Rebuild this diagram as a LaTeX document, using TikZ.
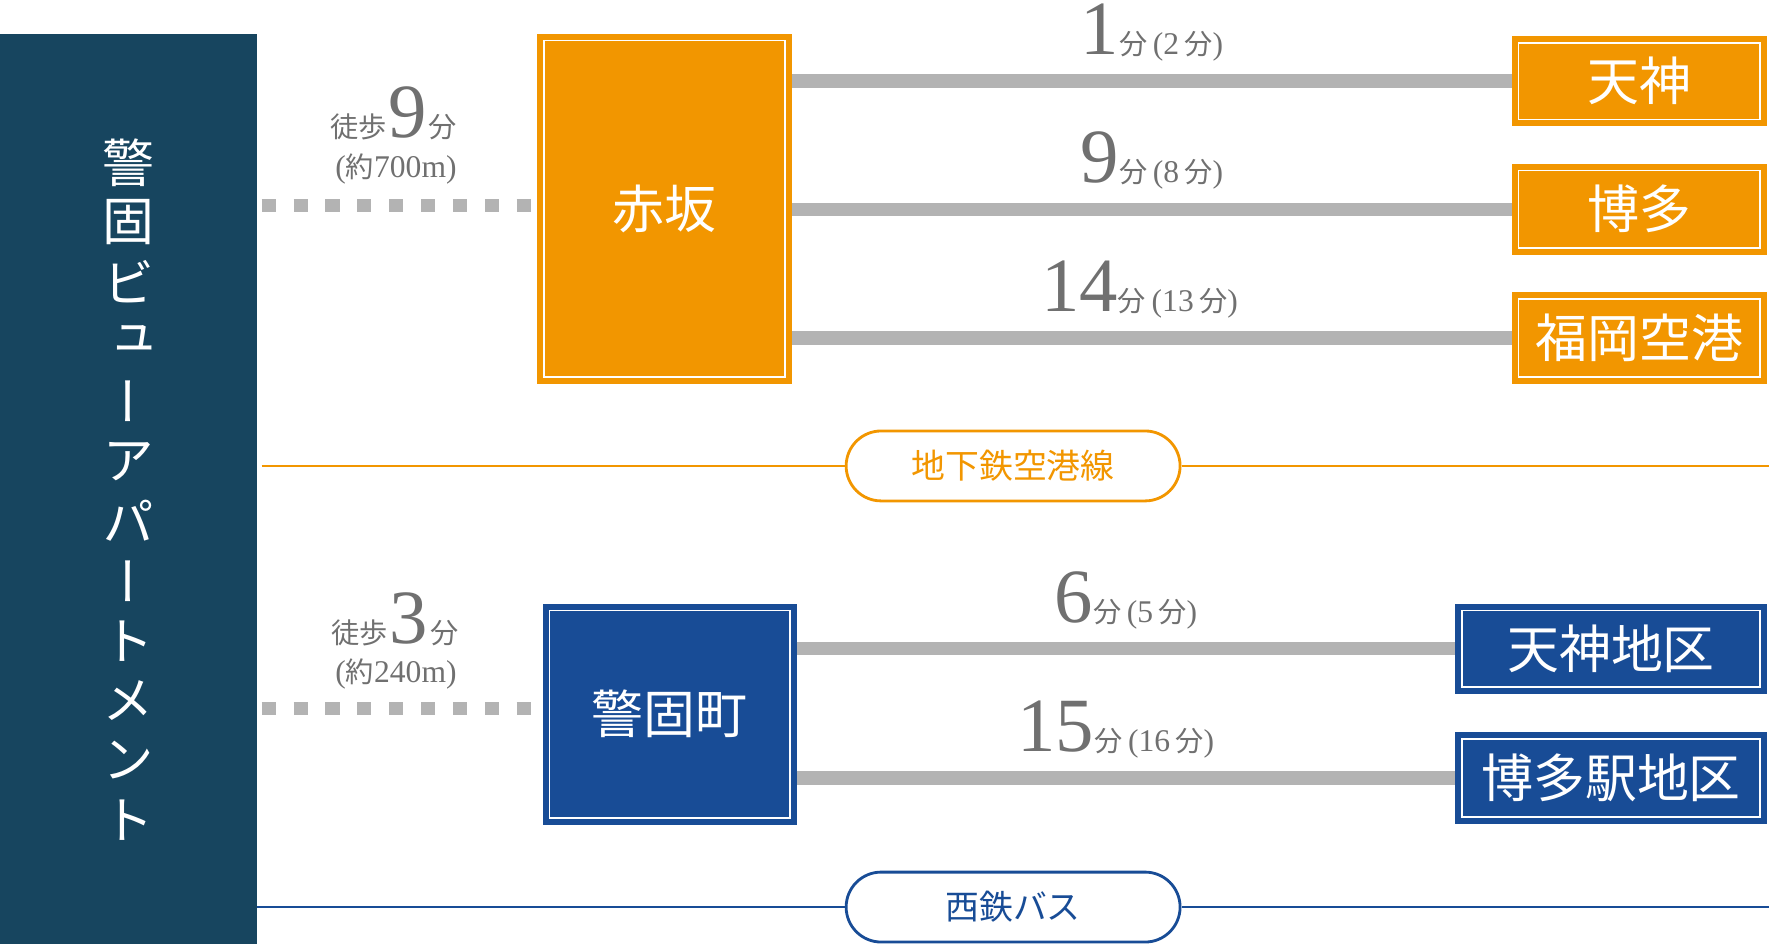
\documentclass[tikz,border=0pt]{standalone}
\usepackage{fontspec}
\setmainfont{Liberation Serif}
\newfontfamily\jp{Noto Sans CJK JP}
\newfontfamily\jpv[RawFeature=+vert]{Noto Sans CJK JP}
\usetikzlibrary{shapes.misc}
\definecolor{panelc}{HTML}{17455F}
\definecolor{orng}{HTML}{F29600}
\definecolor{blu}{HTML}{184C96}
\definecolor{lgray}{HTML}{B3B3B3}
\definecolor{tgray}{HTML}{707070}
\newcommand\tbig[1]{{\fontsize{68}{68}\selectfont #1}}
\newcommand\tfen{{\jp\fontsize{25}{25}\selectfont 分}}
\newcommand\tsm[1]{{\fontsize{28}{28}\selectfont #1}}
\newcommand\tjs[1]{{\jp\fontsize{25}{25}\selectfont #1}}
\begin{document}
\begin{tikzpicture}[x=1pt,y=-1pt,
  framed/.style={path picture={\draw[white,line width=1.5pt]
      ([shift={(6,6)}]path picture bounding box.north west) rectangle
      ([shift={(-6,-6)}]path picture bounding box.south east);}},
  stbox/.style={framed,inner sep=0pt,outer sep=0pt,text=white,
      font=\jp\fontsize{46}{46}\selectfont},
  obox/.style={stbox,fill=orng},
  bbox/.style={stbox,fill=blu},
  grayline/.style={draw=lgray,line width=12pt},
  walkline/.style={draw=lgray,line width=11pt,dash pattern=on 12.5pt off 15.75pt},
  capsule/.style={rounded rectangle,fill=white,line width=2.5pt,minimum width=296pt,
      minimum height=62pt,inner sep=0pt,font=\jp\fontsize{30}{30}\selectfont},
  tlabel/.style={anchor=base,inner sep=0pt,text=tgray},
  vch/.style={text=white,inner sep=0pt,font=\jpv\fontsize{46}{46}\selectfont}
]
\useasboundingbox (0,0) rectangle (1568,837);
% left panel
\node[fill=panelc,inner sep=0pt,outer sep=0pt,minimum width=228pt,minimum height=807pt,anchor=north west] (panel) at (0,30) {};
\node[vch] (v1) at (114,144) {警};
\node[vch] (v2) at (114,197) {固};
\node[vch] (v3) at (114,250) {ビ};
\node[vch] (v4) at (114,303) {ュ};
\node[vch] (v5) at (114,356) {ー};
\node[vch] (v6) at (114,409) {ア};
\node[vch] (v7) at (114,462) {パ};
\node[vch] (v8) at (114,515) {ー};
\node[vch] (v9) at (114,568) {ト};
\node[vch] (v10) at (114,621) {メ};
\node[vch] (v11) at (114,674) {ン};
\node[vch] (v12) at (114,727) {ト};
% subway stations
\node[obox,minimum width=226pt,minimum height=310pt] (akasaka) at (589,185) {赤坂};
\node[obox,minimum width=226pt,minimum height=80pt] (tenjin) at (1453,72) {天神};
\node[obox,minimum width=226pt,minimum height=81pt] (hakata) at (1453,185.5) {博多};
\node[obox,minimum width=226pt,minimum height=81pt] (airport) at (1453,299.5) {福岡空港};
\draw[grayline] (tenjin.west -| akasaka.east) -- (tenjin.west);
\draw[grayline] (hakata.west -| akasaka.east) -- (hakata.west);
\draw[grayline] (airport.west -| akasaka.east) -- (airport.west);
\node[tlabel] (t1) at (1021,48) {\tbig{1}\tfen\hspace{5pt}\tsm{(2\,}\tfen\tsm{)}};
\node[tlabel] (t2) at (1021,162) {\tbig{9}\tfen\hspace{5pt}\tsm{(8\,}\tfen\tsm{)}};
\node[tlabel] (t3) at (1010,276) {\tbig{14}\tfen\hspace{5pt}\tsm{(13\,}\tfen\tsm{)}};
% walk 1
\coordinate (d1) at (232,182);
\draw[walkline] (d1) -- (d1 -| akasaka.west);
\node[tlabel] (w1a) at (349,122) {\tjs{徒歩}\,\tbig{9}\,\tfen};
\node[tlabel] (w1b) at (351,157) {\tsm{(}\tjs{約}\tsm{700m)}};
% subway line
\node[capsule,draw=orng,text=orng] (subway) at (898,413) {地下鉄空港線};
\coordinate (o1) at (232,413);
\coordinate (o2) at (1568,413);
\draw[orng,line width=2pt] (o1) -- (subway.west);
\draw[orng,line width=2pt] (subway.east) -- (o2);
% bus stations
\node[bbox,minimum width=225pt,minimum height=196pt] (keigo) at (593.5,633) {警固町};
\node[bbox,minimum width=276pt,minimum height=80pt] (tenjinc) at (1428,575) {天神地区};
\node[bbox,minimum width=276pt,minimum height=81pt] (hakatac) at (1428,689.5) {博多駅地区};
\draw[grayline] (tenjinc.west -| keigo.east) -- (tenjinc.west);
\draw[grayline] (hakatac.west -| keigo.east) -- (hakatac.west);
\node[tlabel] (t4) at (998,552) {\tbig{6}\tfen\hspace{5pt}\tsm{(5\,}\tfen\tsm{)}};
\node[tlabel] (t5) at (989,666) {\tbig{15}\tfen\hspace{5pt}\tsm{(16\,}\tfen\tsm{)}};
% walk 2
\coordinate (d2) at (232,628);
\draw[walkline] (d2) -- (d2 -| keigo.west);
\node[tlabel] (w2a) at (350,570) {\tjs{徒歩}\,\tbig{3}\,\tfen};
\node[tlabel] (w2b) at (351,605) {\tsm{(}\tjs{約}\tsm{240m)}};
% bus line
\node[capsule,draw=blu,text=blu] (bus) at (898,804) {西鉄バス};
\coordinate (b2) at (1568,804);
\draw[blu,line width=2pt] (panel.east |- bus.west) -- (bus.west);
\draw[blu,line width=2pt] (bus.east) -- (b2);
\end{tikzpicture}
\end{document}
